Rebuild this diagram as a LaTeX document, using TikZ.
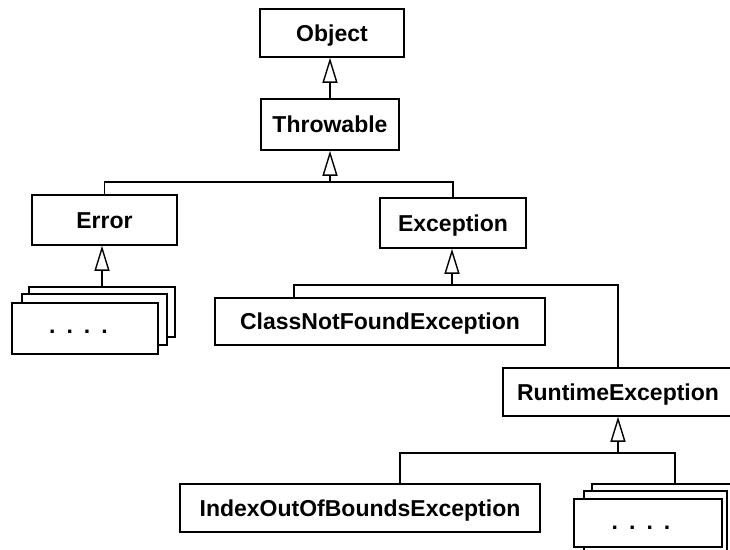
\documentclass[tikz,border=0pt]{standalone}
\usepackage{fontspec}
\setmainfont{Liberation Sans}
\usetikzlibrary{arrows.meta}

\begin{document}
\begin{tikzpicture}[x=1pt,y=-1pt,line width=1.6pt,
  box/.style={draw,fill=white,inner sep=0pt,text height=16pt,text depth=0pt,
    font=\fontsize{23}{23}\selectfont\bfseries},
  sheet/.style={draw,fill=white,inner sep=0pt},
  dotrow/.style={inner sep=0pt,anchor=base,font=\fontsize{23}{23}\selectfont\bfseries},
  inh/.style={-{Triangle[open,length=25pt,width=15pt,line width=1.4pt]}}]

\useasboundingbox (0,0) rectangle (730,549);
\fill[white] (0,0) rectangle (730,549);
\clip (0,0) rectangle (730,549);

% class boxes
\node[box,minimum width=144pt,minimum height=48pt] (obj)  at (332,33)    {Object};
\node[box,minimum width=138pt,minimum height=51pt] (thr)  at (330,124.5) {Throwable};
\node[box,minimum width=145pt,minimum height=50pt] (err)  at (104.5,220) {Error};
\node[box,minimum width=146pt,minimum height=50pt] (exc)  at (453,223)   {Exception};
\node[box,minimum width=330pt,minimum height=47pt] (cnf)  at (380,321.5) {ClassNotFoundException};
\node[box,minimum width=230pt,minimum height=48pt] (rte)  at (618,392)   {RuntimeException};
\node[box,minimum width=360pt,minimum height=48pt] (ioob) at (360,508)   {IndexOutOfBoundsException};

% stacked sheets below Error
\node[sheet,minimum width=146pt,minimum height=50pt] (lsb) at (102,312)   {};
\node[sheet,minimum width=145pt,minimum height=51pt] (lsm) at (94.5,319.5) {};
\node[sheet,minimum width=146pt,minimum height=51pt] (lsf) at (85,328.5)  {};
\node[dotrow] (ldots) at (78.5,333) {.\hspace{11pt}.\hspace{11pt}.\hspace{11pt}.};

% stacked sheets below RuntimeException
\node[sheet,minimum width=150pt,minimum height=80pt] (rsb) at (667,524)   {};
\node[sheet,minimum width=143pt,minimum height=65pt] (rsm) at (655.5,523.5) {};
\node[sheet,minimum width=148pt,minimum height=48pt] (rsf) at (648,523)   {};
\node[dotrow] (rdots) at (641,529) {.\hspace{11pt}.\hspace{11pt}.\hspace{11pt}.};

% branch points
\coordinate (jt) at (330,182);
\coordinate (je) at (452,285);
\coordinate (jr) at (618,453);
\coordinate (cnfx) at (294,0);
\coordinate (ioobx) at (400,0);
\coordinate (rsx) at (675,0);

% Object <- Throwable
\draw[inh] (thr.north) -- (thr.north |- obj.south);

% Throwable <- Error, Exception
\draw[inh] (jt) -- (jt |- thr.south);
\draw (err.north) |- (jt) -| (exc.north);

% Error <- sheets
\draw[inh] (lsb.north) -- (lsb.north |- err.south);

% Exception <- ClassNotFoundException, RuntimeException
\draw[inh] (je) -- (je |- exc.south);
\draw (cnf.north -| cnfx) |- (je) -| (rte.north);

% RuntimeException <- IndexOutOfBoundsException, sheets
\draw[inh] (jr) -- (jr |- rte.south);
\draw (ioob.north -| ioobx) |- (jr) -| (rsb.north -| rsx);
\end{tikzpicture}
\end{document}
